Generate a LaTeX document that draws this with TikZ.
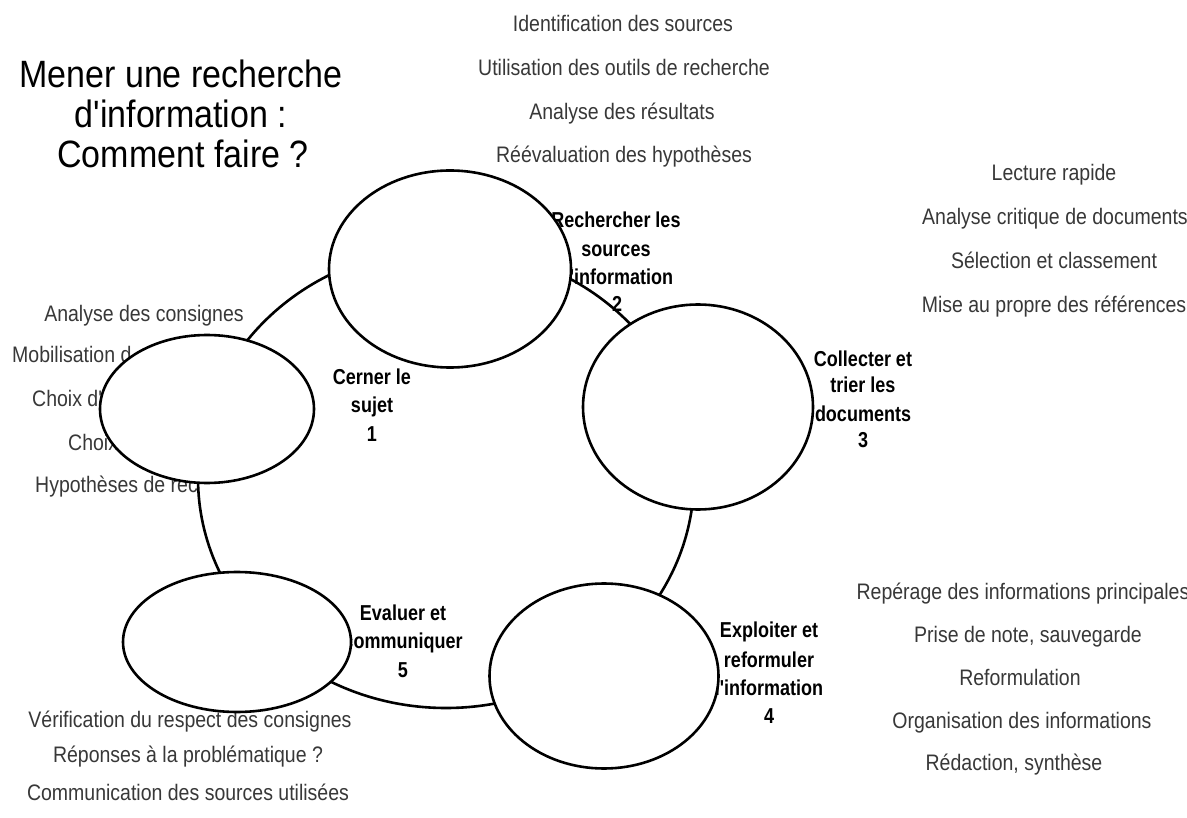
\documentclass[tikz,border=0pt]{standalone}
\usepackage{fontspec}
\setmainfont{Liberation Sans}[Ligatures=TeXOff]
\usetikzlibrary{shapes.geometric}
\tikzset{
  lst/.style={anchor=base, text=black!78, inner sep=0pt, yscale=1.15, font=\fontsize{19.5}{19.5}\selectfont},
  lstw/.style={lst, anchor=base west},
  lbl/.style={anchor=base, inner sep=0pt, yscale=1.2, font=\bfseries\fontsize{18}{18}\selectfont},
  ttl/.style={anchor=base, inner sep=0pt, yscale=1.12, font=\fontsize{34}{34}\selectfont},
  bub/.style={ellipse, draw=black, line width=2.6pt, fill=white, inner sep=0pt},
}
\begin{document}
\begin{tikzpicture}[x=1pt, y=-1pt]
\useasboundingbox (0,0) rectangle (1187,818);
\fill[white] (0,0) rectangle (1187,818);
% ring connecting the stages
\node[ellipse, draw=black, line width=2.6pt, minimum width=496pt, minimum height=460pt, inner sep=0pt] (cycle) at (446,478) {};
% title
\node[ttl] (t1) at (181,88) {Mener une recherche};
\node[ttl] (t2) at (181,128) {d'information :};
\node[ttl] (t3) at (183,168) {Comment faire ?};
% top list
\node[lst] (a1) at (623,32) {Identification des sources};
\node[lst] (a2) at (624,76) {Utilisation des outils de recherche};
\node[lst] (a3) at (622,120) {Analyse des résultats};
\node[lst] (a4) at (624,163) {Réévaluation des hypothèses};
% right list
\node[lst] (b1) at (1054,181) {Lecture rapide};
\node[lst] (b2) at (1055,225) {Analyse critique de documents};
\node[lst] (b3) at (1054,269) {Sélection et classement};
\node[lst] (b4) at (1054,313) {Mise au propre des références};
% left list (partly hidden)
\node[lst] (c1) at (144,322) {Analyse des consignes};
\node[lstw] (c2) at (12,363) {Mobilisation d};
\node[lstw] (c3) at (32,407) {Choix d'};
\node[lstw] (c4) at (68,450) {Choix};
\node[lstw] (c5) at (35,492) {Hypothèses de rec};
% bottom right list
\node[lst] (d1) at (1023,599) {Repérage des informations principales};
\node[lst] (d2) at (1028,642) {Prise de note, sauvegarde};
\node[lst] (d3) at (1020,685) {Reformulation};
\node[lst] (d4) at (1022,728) {Organisation des informations};
\node[lst] (d5) at (1014,770) {Rédaction, synthèse};
% bottom left list
\node[lst] (e1) at (190,727) {Vérification du respect des consignes};
\node[lst] (e2) at (188,762) {Réponses à la problématique ?};
\node[lst] (e3) at (188,800) {Communication des sources utilisées};
% stage labels
\node[lbl] (l1a) at (372,385) {Cerner le};
\node[lbl] (l1b) at (372,413) {sujet};
\node[lbl] (l1c) at (372,442) {1};
\node[lbl] (l2a) at (616,228) {Rechercher les};
\node[lbl] (l2b) at (616,257) {sources};
\node[lbl] (l2c) at (616,285) {d'information};
\node[lbl] (l2d) at (617,312) {2};
\node[lbl] (l3a) at (863,367) {Collecter et};
\node[lbl] (l3b) at (863,393) {trier les};
\node[lbl] (l3c) at (863,422) {documents};
\node[lbl] (l3d) at (863,448) {3};
\node[lbl] (l4a) at (769,637) {Exploiter et};
\node[lbl] (l4b) at (769,667) {reformuler};
\node[lbl] (l4c) at (769,695) {l'information};
\node[lbl] (l4d) at (769,723) {4};
\node[lbl] (l5a) at (403,620) {Evaluer et};
\node[lbl] (l5b) at (403,648) {communiquer};
\node[lbl] (l5c) at (403,677) {5};
% stage bubbles (drawn on top)
\node[bub, minimum width=214pt, minimum height=148pt] (s1) at (207,409) {};
\node[bub, minimum width=242pt, minimum height=197pt] (s2) at (450,269) {};
\node[bub, minimum width=230pt, minimum height=205pt] (s3) at (698,407) {};
\node[bub, minimum width=229pt, minimum height=185pt] (s4) at (604,676) {};
\node[bub, minimum width=228pt, minimum height=140pt] (s5) at (237,642) {};
\end{tikzpicture}
\end{document}
